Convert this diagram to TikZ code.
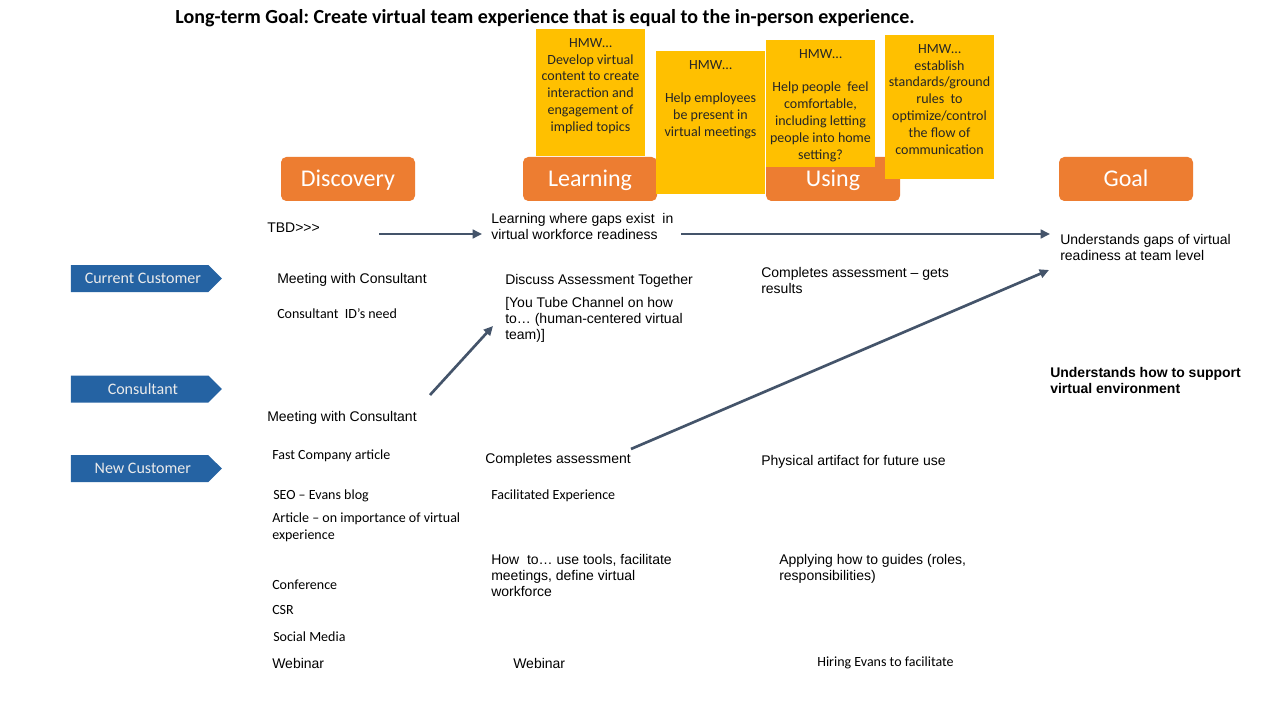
\documentclass[tikz,border=0pt]{standalone}
\usepackage{fontspec}
\setmainfont{Carlito}
\newfontfamily\arialf{Liberation Sans}
\usetikzlibrary{shapes.symbols,arrows.meta}
\definecolor{phaseorange}{HTML}{ED7D31}
\definecolor{hmwyellow}{HTML}{FFC000}
\definecolor{personablue}{RGB}{37,99,163}
\definecolor{flowslate}{HTML}{44546A}
\tikzset{
 txt/.style={anchor=west, inner sep=0pt, align=left, font=\arialf\fontsize{10.5}{12}\selectfont, text=black},
 btxt/.style={txt, font=\arialf\bfseries\fontsize{10.5}{12}\selectfont},
 ctxt/.style={anchor=west, inner sep=0pt, align=left, font=\fontsize{10.5}{12.6}\selectfont, text=black},
 phase/.style={rectangle, rounded corners=4pt, fill=phaseorange, minimum width=100.5pt, minimum height=33pt, text=white, font=\fontsize{18}{20}\selectfont, inner sep=0pt, text height=12pt, text depth=0pt},
 hmw/.style={rectangle, fill=hmwyellow, minimum width=81.75pt, inner sep=0pt},
 hmwtxt/.style={anchor=north, inner sep=0pt, align=center, font=\fontsize{10.5}{12.6}\selectfont, text=black!85},
 persona/.style={signal, signal to=east, signal pointer angle=90, fill=personablue, minimum width=113.25pt, minimum height=20.25pt, text=white!92!black, font=\fontsize{12}{14}\selectfont, inner sep=0pt},
 flow/.style={draw=flowslate, line width=2pt, -{Triangle[length=7pt,width=6.5pt]}},
}
\begin{document}
\frenchspacing
\begin{tikzpicture}[x=0.75pt,y=-0.75pt]
\useasboundingbox[fill=white] (0,0) rectangle (1280,720);
% title
\node[inner sep=0pt, font=\bfseries\fontsize{15}{17}\selectfont] (title) at (545,18) {Long-term Goal: Create virtual team experience that is equal to the in-person experience.};
% phases
\node[phase] (discovery) at (348,179) {Discovery};
\node[phase] (learning) at (590,179) {Learning};
\node[phase] (using) at (833,179) {Using};
\node[phase] (goal) at (1126,179) {Goal};
% HMW boxes
\node[hmw, minimum height=95.25pt] (y1) at (590.5,92.5) {};
\node[hmw, minimum height=107.25pt] (y2) at (710.5,122.5) {};
\node[hmw, minimum height=95.25pt] (y3) at (820.5,103.5) {};
\node[hmw, minimum height=108pt] (y4) at (939.5,107) {};
\node[hmwtxt, yshift=-7pt] (y1t) at (y1.north) {HMW…\\Develop virtual\\content to create\\interaction and\\engagement of\\implied topics};
\node[hmwtxt, yshift=-7pt] (y2t) at (y2.north) {HMW…\\[12.6pt]Help employees\\be present in\\virtual meetings};
\node[hmwtxt, yshift=-7pt] (y3t) at (y3.north) {HMW…\\[12.6pt]Help people\ \ feel\\comfortable,\\including letting\\people into home\\setting?};
\node[hmwtxt, yshift=-7pt] (y4t) at (y4.north) {HMW…\\establish\\standards/ground\\rules\ \ to\\optimize/control\\the flow of\\communication};
% personas
\node[persona] (pcur) at (139.5,278.5) {\hspace*{5pt}Current Customer};
\node[persona] (pcons) at (139.5,389) {\hspace*{5pt}Consultant};
\node[persona] (pnew) at (139.5,468.5) {\hspace*{5pt}New Customer};
% texts
\node[txt] (tbd) at (267,228) {TBD>>>};
\node[txt] (gaps) at (491,226) {Learning where gaps exist\ \ in\\virtual workforce readiness};
\node[txt] (ugaps) at (1060,247) {Understands gaps of virtual\\readiness at team level};
\node[txt] (meet1) at (277,280) {Meeting with Consultant};
\node[ctxt] (consid) at (277,314) {Consultant\ \ ID’s need};
\node[txt] (discuss) at (505,281) {Discuss Assessment Together};
\node[txt] (youtube) at (505,319.5) {[You Tube Channel on how\\to… (human-centered virtual\\team)]};
\node[txt] (compres) at (761,280) {Completes assessment – gets\\results};
\node[btxt] (support) at (1050,380) {Understands how to support\\virtual environment};
\node[txt] (meet2) at (267,418) {Meeting with Consultant};
\node[ctxt] (fastco) at (272,456) {Fast Company\ article};
\node[txt] (compl) at (485,460) {Completes assessment};
\node[txt] (phys) at (761,462) {Physical artifact for future use};
\node[ctxt] (seo) at (273,496) {SEO – Evans blog};
\node[ctxt] (facil) at (491,496) {Facilitated Experience};
\node[ctxt] (article) at (272,527) {Article – on importance of virtual\\experience};
\node[txt] (howto) at (491,575.5) {How\ \ to… use tools, facilitate\\meetings, define virtual\\workforce};
\node[txt] (apply) at (779,569) {Applying how to guides (roles,\\responsibilities)};
\node[ctxt] (conf) at (272,585) {Conference};
\node[ctxt] (csr) at (272,610) {CSR};
\node[ctxt] (social) at (273,637) {Social Media};
\node[txt] (web1) at (272,663) {Webinar};
\node[txt] (web2) at (513,663) {Webinar};
\node[ctxt] (hire) at (817,663) {Hiring Evans to facilitate};
% connectors
\coordinate (a1s) at (379,234);
\coordinate (a1e) at (482,234);
\coordinate (a2s) at (681,234);
\coordinate (a2e) at (1050,234);
\coordinate (a3s) at (430,395);
\coordinate (a3e) at (493,326);
\coordinate (a4s) at (631,449);
\coordinate (a4e) at (1049,270);
\draw[flow] (a1s) -- (a1e);
\draw[flow] (a2s) -- (a2e);
\draw[flow] (a3s) -- (a3e);
\draw[flow] (a4s) -- (a4e);
\end{tikzpicture}
\end{document}
